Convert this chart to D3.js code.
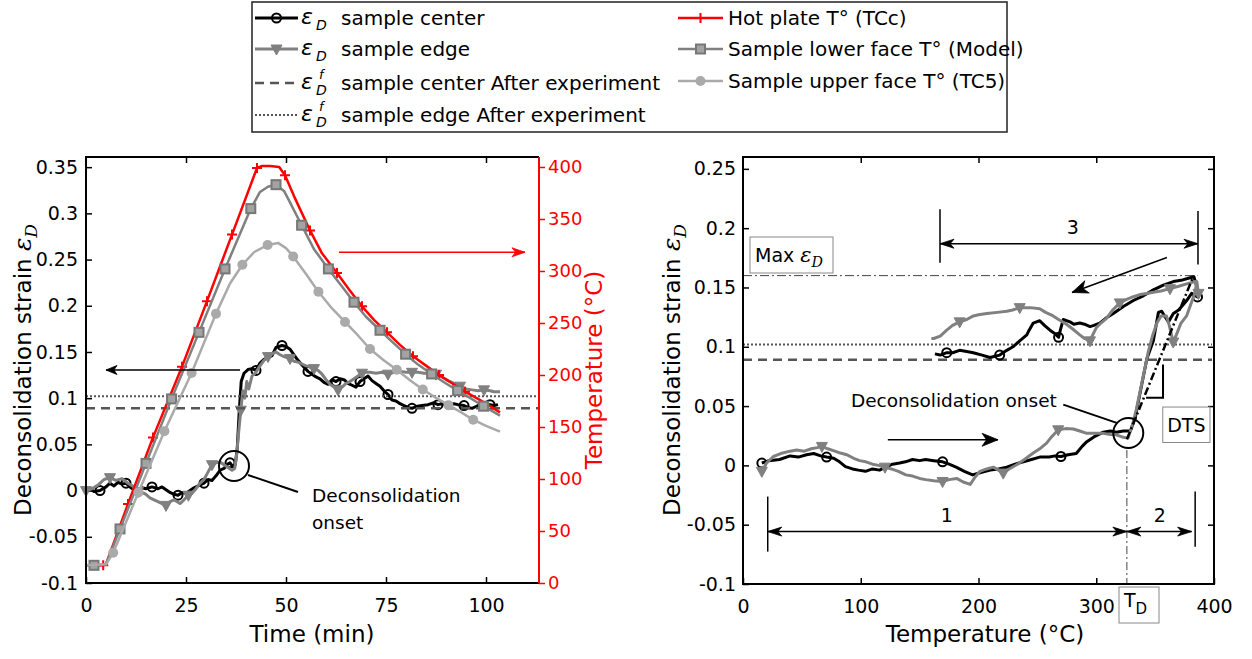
<!DOCTYPE html>
<html>
<head>
<meta charset="utf-8">
<script src="https://cdn.jsdelivr.net/npm/d3@7"></script>
<style>
body { margin: 0; background: #fff; }
svg { display: block; }
text { font-family: "DejaVu Sans", sans-serif; }
</style>
</head>
<body>
<div id="chart"></div>
<script>
// ---- tick values / labels ----
var leftTimeTicks = [0, 25, 50, 75, 100];
var leftStrainTicks = [-0.1, -0.05, 0, 0.05, 0.1, 0.15, 0.2, 0.25, 0.3, 0.35];
var leftStrainLabels = ["-0.1", "-0.05", "0", "0.05", "0.1", "0.15", "0.2", "0.25", "0.3", "0.35"];
var tempTicks = [0, 50, 100, 150, 200, 250, 300, 350, 400];
var rightTempTicks = [0, 100, 200, 300, 400];
var rightStrainTicks = [-0.1, -0.05, 0, 0.05, 0.1, 0.15, 0.2, 0.25];
var rightStrainLabels = ["-0.1", "-0.05", "0", "0.05", "0.1", "0.15", "0.2", "0.25"];

// after experiment strains + max strain + onset temperature
var afterCenter = 0.089, afterEdge = 0.102, maxStrain = 0.16, onsetTemp = 326;

// ---- left plot : strain vs time ----
var lcTime = [0,1,2,3.5,5,6,7,8,9,10,11,12,13,14,15,16.5,18,19,20,21,22,23,24,25,26,27,28,29.5,30.5,31.5,32.5,33.5,34.5,35.5,36,36.7,37.3,37.8,38.3,38.8,39.5,40.5,41.5,42.5,43.5,44.5,45.5,46.5,47.5,49,50,51,52,53,54,55.5,56.5,57.5,58.5,59.5,60.5,61.5,62.5,63.5,64.5,65.5,66.5,67.5,68.5,69.5,70.5,71.5,72.5,73.5,74.5,75.5,76.5,77.5,78.5,79.5,80.5,81.5,82.5,84,85.5,87,88,89,90,91,92,93,94.5,95.5,96.5,97.5,98.5,99.5,101,102,103];
var lcStrain = [0.000,0.002,-0.001,0.000,0.004,0.008,0.005,0.009,0.007,0.008,0.004,0.001,-0.001,0.003,0.002,0.004,0.002,0.004,0.001,-0.002,-0.004,-0.005,-0.002,-0.003,0.000,0.003,0.005,0.008,0.012,0.011,0.016,0.022,0.024,0.029,0.030,0.026,0.028,0.045,0.085,0.118,0.127,0.131,0.132,0.130,0.138,0.142,0.144,0.146,0.155,0.157,0.156,0.153,0.147,0.141,0.136,0.129,0.126,0.123,0.121,0.117,0.115,0.120,0.118,0.121,0.120,0.116,0.114,0.112,0.118,0.121,0.124,0.119,0.116,0.113,0.108,0.104,0.098,0.097,0.094,0.092,0.090,0.089,0.091,0.092,0.093,0.095,0.093,0.094,0.092,0.093,0.094,0.093,0.092,0.090,0.089,0.091,0.093,0.092,0.093,0.092,0.093];
var lcMarks = [3,9,15,21,27,34,43,49,55,62,68,75,81,86,92,98];

var leTime = [0,1.5,3,4.5,6,7.5,9,10.5,12,13,14,15,16,17,18,19,20,21,22,23.5,24.5,25.6,26.5,27.5,28.5,29.5,30.5,31.5,32.5,33.5,34.5,35.5,36.5,37.2,37.7,38.2,38.7,39.2,39.7,40.2,40.7,41.5,42.5,43.5,44.5,45.5,46.5,47.5,48.5,49.5,51,52,53,54,55,56,57,58,59,60,61,62,63,64,65,66,67,68,69,70,71,72.5,74,75.5,77,78.5,80,81.5,83,84.5,86,87.5,89,90.5,92,93.5,95,96.5,98,99.5,101,102,103.5];
var leStrain = [0.000,0.002,0.006,0.012,0.014,0.011,0.013,0.008,0.004,-0.001,-0.002,-0.004,-0.008,-0.010,-0.012,-0.014,-0.016,-0.012,-0.010,-0.014,-0.010,-0.005,-0.003,0.002,0.008,0.012,0.020,0.028,0.030,0.031,0.028,0.025,0.022,0.024,0.040,0.065,0.087,0.108,0.100,0.118,0.110,0.124,0.128,0.135,0.141,0.145,0.148,0.150,0.147,0.145,0.143,0.140,0.139,0.137,0.135,0.134,0.132,0.130,0.126,0.120,0.115,0.112,0.109,0.112,0.116,0.118,0.121,0.124,0.127,0.128,0.128,0.127,0.128,0.126,0.128,0.129,0.128,0.128,0.128,0.127,0.127,0.126,0.123,0.119,0.116,0.113,0.110,0.109,0.108,0.109,0.108,0.107,0.107];
var leMarks = [0,4,9,16,21,27,36,45,50,56,62,68,73,77,81,85,89];

// temperatures (°C)
var hotTime = [0,4.3,5,10.5,16.75,24,30.25,36.5,42.75,44,46,48.3,49.75,52,56,59,62.75,66,69,72,75.25,78.5,81.75,85,88.25,91.5,94.75,98,101,103.5];
var hotTemp = [17,17,18,76,140,208,271,335,399,401,401,400,392,372,339,317,298,281,266,253,241,229,218,209,200,192,184,177,170,164];
var hotMarks = [1,3,4,5,6,7,8,12,14,16,18,20,22,24,26];

var lowerTime = [0,2,5,8.5,15,21.4,28.25,34.75,41.2,43.5,45.5,47.5,49.5,51,53.9,57,60.6,64,67,70,73.5,76.5,79.9,83,86.4,89.5,92.9,96,99.4,103.5];
var lowerTemp = [17,17,18,52,115,177,241,302,360,376,381,383,377,366,344,321,302,285,270,256,243,232,220,210,201,193,185,178,170,161];
var lowerMarks = [1,3,4,5,6,7,8,11,14,16,18,20,22,24,26,28];

var upperTime = [0,5,6.8,13.1,19.6,26.4,32.5,36,39.1,42,45.4,48,50,51.8,55,58.1,61.5,64.75,68,71,74.5,77.7,81,84.2,87.5,90.6,93.8,96.8,100,103.5];
var upperTemp = [17,18,29,87,146,202,259,288,306,318,325,327,322,314,297,280,264,251,238,225,214,205,195,186,178,171,164,157,151,145.5];
var upperMarks = [2,3,4,5,6,8,10,13,15,17,19,21,23,25,27];

// ---- right plot : strain vs temperature ----
var rcTemp = [16,22,31,40,47,54,60,66,71,77,82,87,93,98,104,110,116,121,127,133,138,144,150,155,162,169.5,175,181,188,195,202,210,217,224,231,238,245,252,260,265,270,276,283,288,292,298,306,312,317,323,329,333,338,343,348.5,352.8,355.6,358,361.3,365.5,370,376.8,381,386,385,383,379,372,365.5,357,348.5,340,331.5,323,314.5,308,303,298,294.7,290,286,281,277.7,272,270,268,265,260.7,256,252,246.5,243,241,235,229.3,224,218,214,209.8,203,195.6,190,184,178,173,167.5,163];
var rcStrain = [0.002,0.004,0.005,0.008,0.007,0.009,0.010,0.008,0.007,0.006,0.003,-0.001,-0.003,-0.004,-0.005,-0.003,-0.004,-0.0015,0.001,0.002,0.003,0.005,0.004,0.005,0.004,0.003,0.001,-0.0015,-0.005,-0.008,-0.006,-0.004,-0.003,-0.0015,0.001,0.003,0.005,0.007,0.007,0.008,0.0075,0.009,0.010,0.016,0.020,0.024,0.028,0.029,0.028,0.029,0.029,0.040,0.065,0.090,0.105,0.129,0.130,0.126,0.121,0.128,0.131,0.139,0.145,0.142,0.152,0.159,0.158,0.156,0.155,0.152,0.148,0.143,0.139,0.134,0.128,0.124,0.120,0.118,0.117,0.119,0.120,0.119,0.121,0.123,0.116,0.108,0.111,0.114,0.118,0.122,0.120,0.114,0.110,0.105,0.100,0.097,0.093,0.092,0.091,0.093,0.095,0.096,0.097,0.095,0.095,0.093,0.094];
var rcMarks = [0,8,25,40,63,85,96,104];

var reTemp = [16,20,25.8,32,40,45.6,52,58,63,67,72,78,82.8,88,94,99,104.3,110,115,120.6,126,132,138.3,144,150,155.3,162,169.5,175,181.5,187,193,197,201.3,207,212.6,217,221,226,232.4,239,246.5,252,257.8,262,267.7,274,280.5,286,292,299,306,312,317,322,327,331,334,339.9,344,348,351.5,355,359.6,362,365.4,368,372,376.7,380,384,385.4,386.8,384,376.8,370,362.6,355,348.5,343,337,331,325.8,320,314,308.7,304,300,297,294.7,290,286,280,274.7,268,263.4,257,252,244,235,229,224,216,207,200,195.6,190,184,178,173,167.5,162,160];
var reStrain = [-0.005,0.002,0.0075,0.010,0.012,0.013,0.012,0.014,0.015,0.016,0.014,0.012,0.0104,0.009,0.006,0.004,0.003,0.001,0.000,-0.0015,-0.003,-0.005,-0.008,-0.009,-0.011,-0.012,-0.013,-0.0136,-0.012,-0.011,-0.014,-0.016,-0.010,-0.005,-0.003,-0.0015,-0.004,-0.0065,-0.003,0.0005,0.005,0.0104,0.014,0.0188,0.024,0.030,0.031,0.0307,0.029,0.027,0.027,0.027,0.026,0.0258,0.024,0.023,0.035,0.047,0.075,0.095,0.110,0.120,0.126,0.126,0.118,0.104,0.110,0.120,0.126,0.135,0.146,0.155,0.145,0.155,0.153,0.151,0.149,0.147,0.146,0.145,0.144,0.142,0.140,0.137,0.131,0.124,0.120,0.116,0.110,0.105,0.107,0.110,0.115,0.119,0.123,0.126,0.129,0.132,0.133,0.133,0.131,0.130,0.129,0.128,0.127,0.126,0.123,0.121,0.118,0.114,0.109,0.107,0.107];
var reMarks = [0,9,19,27,37,45,65,72,76,83,89,99,107];

// ---- colours ----
var RED = "#ff0000", GREY = "#808080", LIGHT = "#aaaaaa", REF = "#555555";
var W = 1252, H = 659;

var svg = d3.select("#chart").append("svg").attr("width", W).attr("height", H);
svg.append("rect").attr("width", W).attr("height", H).attr("fill", "#fff");

// ---- scales ----
var lx = d3.scaleLinear().domain([0, 113.25]).range([86, 539]);
var ly = d3.scaleLinear().domain([-0.1, 0.361]).range([583, 157]);
var lyT = d3.scaleLinear().domain([0, 409.6]).range([583, 157]);
var rx = d3.scaleLinear().domain([0, 400]).range([743, 1214]);
var ry = d3.scaleLinear().domain([-0.1, 0.26]).range([584, 157]);

function styleAxis(g, color, size) {
	g.select(".domain").remove();
	g.selectAll(".tick line").attr("stroke", color).attr("stroke-width", 1.5);
	g.selectAll(".tick text").attr("fill", color).attr("font-size", size)
	.attr("font-family", "'DejaVu Sans', sans-serif");
}

function drawLine(g, xs, ys, xv, yv, color, width, dash) {
	var pts = xv.map(function(v, i) { return [xs(v), ys(yv[i])]; });
	var p = g.append("path")
	.attr("d", d3.line()(pts))
	.attr("fill", "none")
	.attr("stroke", color)
	.attr("stroke-width", width)
	.attr("stroke-linejoin", "round");
	if (dash) p.attr("stroke-dasharray", dash);
	return p;
}

function drawMarker(g, x, y, kind) {
	if (kind === "ring") {
		g.append("circle").attr("cx", x).attr("cy", y).attr("r", 4.5)
		.attr("fill", "none").attr("stroke", "#000").attr("stroke-width", 2);
	} else if (kind === "tri") {
		g.append("path")
		.attr("d", "M" + (x - 5.5) + "," + (y - 4) + "L" + (x + 5.5) + "," + (y - 4) + "L" + x + "," + (y + 6) + "Z")
		.attr("fill", GREY).attr("stroke", GREY).attr("stroke-width", 1);
	} else if (kind === "square") {
		g.append("rect").attr("x", x - 4.5).attr("y", y - 4.5).attr("width", 9).attr("height", 9)
		.attr("fill", "#a3a3a3").attr("stroke", "#777").attr("stroke-width", 2);
	} else if (kind === "dot") {
		g.append("circle").attr("cx", x).attr("cy", y).attr("r", 5).attr("fill", LIGHT);
	} else if (kind === "plus") {
		g.append("path")
		.attr("d", "M" + (x - 5) + "," + y + "H" + (x + 5) + "M" + x + "," + (y - 5) + "V" + (y + 5))
		.attr("stroke", RED).attr("stroke-width", 2);
	}
}

function drawMarks(g, xs, ys, xv, yv, idx, kind) {
	idx.forEach(function(i) { drawMarker(g, xs(xv[i]), ys(yv[i]), kind); });
}

function arrowHead(g, x1, y1, x2, y2, len, wid, color) {
	var dx = x2 - x1, dy = y2 - y1, L = Math.sqrt(dx * dx + dy * dy);
	var ux = dx / L, uy = dy / L, px = -uy, py = ux;
	var bx = x2 - ux * len, by = y2 - uy * len;
	var nx = x2 - ux * len * 0.72, ny = y2 - uy * len * 0.72;
	g.append("path")
	.attr("d", "M" + x2 + "," + y2 + "L" + (bx + px * wid / 2) + "," + (by + py * wid / 2) +
		"L" + nx + "," + ny + "L" + (bx - px * wid / 2) + "," + (by - py * wid / 2) + "Z")
	.attr("fill", color).attr("stroke", color).attr("stroke-width", 0.8);
}

function arrow(g, x1, y1, x2, y2, len, wid, color, both) {
	g.append("line").attr("x1", x1).attr("y1", y1).attr("x2", x2).attr("y2", y2)
	.attr("stroke", color).attr("stroke-width", 1.5);
	arrowHead(g, x1, y1, x2, y2, len, wid, color);
	if (both) arrowHead(g, x2, y2, x1, y1, len, wid, color);
}

// epsilon_D as real text: italic serif epsilon plus subscript D
function epsD(textSel, size) {
	textSel.append("tspan").attr("font-family", "'DejaVu Serif', serif").attr("font-style", "italic")
	.attr("font-size", size).text("\u03b5");
	textSel.append("tspan").attr("font-family", "'DejaVu Serif', serif").attr("font-style", "italic")
	.attr("font-size", size * 0.68).attr("dy", size * 0.25).text("D");
}

// ================= LEFT PLOT =================
var gl = svg.append("g");

gl.append("g").attr("transform", "translate(0,583)")
.call(d3.axisBottom(lx).tickValues(leftTimeTicks).tickSize(-6).tickSizeOuter(0).tickPadding(16).tickFormat(d3.format("d")))
.call(function(g) { styleAxis(g, "#000", 19); });
gl.append("g").attr("transform", "translate(0,157)")
.call(d3.axisTop(lx).tickValues(leftTimeTicks.slice(1)).tickSize(-6).tickSizeOuter(0).tickFormat(""))
.call(function(g) { styleAxis(g, "#000", 19); });
gl.append("g").attr("transform", "translate(86,0)")
.call(d3.axisLeft(ly).tickValues(leftStrainTicks).tickSize(-6).tickSizeOuter(0).tickPadding(8)
	.tickFormat(function(d, i) { return leftStrainLabels[i]; }))
.call(function(g) { styleAxis(g, "#000", 19); });
gl.append("g").attr("transform", "translate(539,0)")
.call(d3.axisRight(lyT).tickValues(tempTicks).tickSize(6).tickSizeOuter(0).tickPadding(3).tickFormat(d3.format("d")))
.call(function(g) { styleAxis(g, RED, 18); });

// strain curves
drawLine(gl, lx, ly, lcTime, lcStrain, "#000", 3);
drawMarks(gl, lx, ly, lcTime, lcStrain, lcMarks, "ring");
drawLine(gl, lx, ly, leTime, leStrain, GREY, 3);
drawMarks(gl, lx, ly, leTime, leStrain, leMarks, "tri");

// after experiment lines
gl.append("line").attr("x1", 86).attr("x2", 539).attr("y1", ly(afterCenter)).attr("y2", ly(afterCenter))
.attr("stroke", REF).attr("stroke-width", 2.5).attr("stroke-dasharray", "9,6");
gl.append("line").attr("x1", 86).attr("x2", 539).attr("y1", ly(afterEdge)).attr("y2", ly(afterEdge))
.attr("stroke", REF).attr("stroke-width", 2).attr("stroke-dasharray", "2,2");

// temperatures
drawLine(gl, lx, lyT, hotTime, hotTemp, RED, 2.5);
drawMarks(gl, lx, lyT, hotTime, hotTemp, hotMarks, "plus");
drawLine(gl, lx, lyT, lowerTime, lowerTemp, GREY, 2.5);
drawMarks(gl, lx, lyT, lowerTime, lowerTemp, lowerMarks, "square");
drawLine(gl, lx, lyT, upperTime, upperTemp, LIGHT, 2.5);
drawMarks(gl, lx, lyT, upperTime, upperTemp, upperMarks, "dot");

// box
gl.append("path").attr("d", "M539,157H86V583H539").attr("fill", "none").attr("stroke", "#000").attr("stroke-width", 2);
gl.append("line").attr("x1", 539).attr("x2", 539).attr("y1", 157).attr("y2", 583).attr("stroke", RED).attr("stroke-width", 2);

// annotations
arrow(gl, lx(38.5), ly(0.1305), lx(5), ly(0.1305), 11, 9, "#000", false);
arrow(gl, lx(63.25), lyT(318), lx(109.75), lyT(318), 13, 9, RED, false);
gl.append("circle").attr("cx", lx(37)).attr("cy", ly(0.0266)).attr("r", 15)
.attr("fill", "none").attr("stroke", "#000").attr("stroke-width", 2);
gl.append("line").attr("x1", lx(40.5)).attr("y1", ly(0.0169)).attr("x2", lx(53)).attr("y2", ly(-0.0015))
.attr("stroke", "#000").attr("stroke-width", 2);
gl.append("text").attr("x", lx(56.5)).attr("y", ly(-0.0058) + 6).attr("font-size", 18.5).text("Deconsolidation");
gl.append("text").attr("x", lx(56.5)).attr("y", ly(-0.0058) + 33).attr("font-size", 18.5).text("onset");

// axis titles
gl.append("text").attr("x", 312).attr("y", 642).attr("text-anchor", "middle").attr("font-size", 23).text("Time (min)");
var tl = gl.append("text").attr("transform", "translate(31,370) rotate(-90)").attr("text-anchor", "middle").attr("font-size", 23);
tl.append("tspan").text("Deconsolidation strain ");
epsD(tl, 25);
gl.append("text").attr("transform", "translate(602,370) rotate(-90)").attr("text-anchor", "middle")
.attr("font-size", 23).attr("fill", RED).text("Temperature (\u00b0C)");

// ================= RIGHT PLOT =================
var gr = svg.append("g");

gr.append("g").attr("transform", "translate(0,584)")
.call(d3.axisBottom(rx).tickValues(rightTempTicks).tickSize(-6).tickSizeOuter(0).tickPadding(16).tickFormat(d3.format("d")))
.call(function(g) { styleAxis(g, "#000", 19); });
gr.append("g").attr("transform", "translate(0,157)")
.call(d3.axisTop(rx).tickValues([100, 200, 300]).tickSize(-6).tickSizeOuter(0).tickFormat(""))
.call(function(g) { styleAxis(g, "#000", 19); });
gr.append("g").attr("transform", "translate(743,0)")
.call(d3.axisLeft(ry).tickValues(rightStrainTicks).tickSize(-6).tickSizeOuter(0).tickPadding(7)
	.tickFormat(function(d, i) { return rightStrainLabels[i]; }))
.call(function(g) { styleAxis(g, "#000", 19); });
gr.append("g").attr("transform", "translate(1214,0)")
.call(d3.axisRight(ry).tickValues(rightStrainTicks.slice(1)).tickSize(-6).tickSizeOuter(0).tickFormat(""))
.call(function(g) { styleAxis(g, "#000", 19); });

// reference lines
gr.append("line").attr("x1", 743).attr("x2", rx(386)).attr("y1", ry(maxStrain)).attr("y2", ry(maxStrain))
.attr("stroke", "#444").attr("stroke-width", 1).attr("stroke-dasharray", "9,3,2,3");
gr.append("line").attr("x1", 743).attr("x2", 1212).attr("y1", ry(afterCenter)).attr("y2", ry(afterCenter))
.attr("stroke", REF).attr("stroke-width", 2.5).attr("stroke-dasharray", "9,6");
gr.append("line").attr("x1", 743).attr("x2", 1212).attr("y1", ry(afterEdge)).attr("y2", ry(afterEdge))
.attr("stroke", REF).attr("stroke-width", 2).attr("stroke-dasharray", "2,2");

// curves
drawLine(gr, rx, ry, rcTemp, rcStrain, "#000", 3);
drawMarks(gr, rx, ry, rcTemp, rcStrain, rcMarks, "ring");
drawLine(gr, rx, ry, reTemp, reStrain, GREY, 3);
drawMarks(gr, rx, ry, reTemp, reStrain, reMarks, "tri");

// DTS tangent + triangle
gr.append("line").attr("x1", rx(326)).attr("y1", ry(0.022)).attr("x2", rx(382.5)).attr("y2", ry(0.1595))
.attr("stroke", "#000").attr("stroke-width", 2.5).attr("stroke-dasharray", "8,3,2,3");
gr.append("path").attr("d", "M" + rx(342.3) + "," + ry(0.0571) + "H" + rx(356.7) + "V" + ry(0.085))
.attr("fill", "none").attr("stroke", "#000").attr("stroke-width", 2);

// T_D vertical
gr.append("line").attr("x1", rx(onsetTemp)).attr("x2", rx(onsetTemp)).attr("y1", ry(0.013)).attr("y2", 584)
.attr("stroke", "#444").attr("stroke-width", 1).attr("stroke-dasharray", "8,3,2,3");

// box
gr.append("rect").attr("x", 743).attr("y", 157).attr("width", 471).attr("height", 427)
.attr("fill", "none").attr("stroke", "#000").attr("stroke-width", 2);

// onset circle + label
gr.append("circle").attr("cx", rx(327.2)).attr("cy", ry(0.0273)).attr("r", 15)
.attr("fill", "none").attr("stroke", "#000").attr("stroke-width", 2);
gr.append("line").attr("x1", rx(272)).attr("y1", ry(0.0512)).attr("x2", rx(317.4)).attr("y2", ry(0.0358))
.attr("stroke", "#000").attr("stroke-width", 2);
gr.append("text").attr("x", rx(91.7)).attr("y", ry(0.0554) + 7).attr("font-size", 18.5).text("Deconsolidation onset");

// heating / cooling arrows
arrow(gr, rx(123), ry(0.0216), rx(216.6), ry(0.0216), 16, 13, "#000", false);
arrow(gr, rx(360), ry(0.1753), rx(279.4), ry(0.1458), 16, 13, "#000", false);

// zone arrows 1, 2, 3
arrow(gr, rx(21), ry(-0.0558), rx(onsetTemp), ry(-0.0558), 14, 9, "#000", true);
arrow(gr, rx(onsetTemp), ry(-0.0558), rx(381), ry(-0.0558), 14, 9, "#000", true);
arrow(gr, rx(167.3), ry(0.1869), rx(386.4), ry(0.1869), 14, 9, "#000", true);
[[21, -0.0263, -0.0727], [384, -0.022, -0.0685], [167.3, 0.2159, 0.1709], [386.4, 0.2145, 0.1694]].forEach(function(b) {
	gr.append("line").attr("x1", rx(b[0])).attr("x2", rx(b[0])).attr("y1", ry(b[1])).attr("y2", ry(b[2]))
	.attr("stroke", "#000").attr("stroke-width", 1.5);
});
gr.append("text").attr("x", rx(173)).attr("y", ry(-0.0417) + 7).attr("text-anchor", "middle").attr("font-size", 19).text("1");
gr.append("text").attr("x", rx(354)).attr("y", ry(-0.0417) + 7).attr("text-anchor", "middle").attr("font-size", 19).text("2");
gr.append("text").attr("x", rx(280)).attr("y", ry(0.2007) + 7).attr("text-anchor", "middle").attr("font-size", 19).text("3");

// Max eps box
gr.append("rect").attr("x", 750).attr("y", 237).attr("width", 83).attr("height", 36)
.attr("fill", "#fff").attr("stroke", "#888").attr("stroke-width", 1);
var mt = gr.append("text").attr("x", 755).attr("y", 262).attr("font-size", 19);
mt.append("tspan").text("Max ");
epsD(mt, 21);

// DTS box
gr.append("rect").attr("x", rx(356.5)).attr("y", ry(0.0492)).attr("width", rx(396.6) - rx(356.5)).attr("height", ry(0.0193) - ry(0.0492))
.attr("fill", "#fff").attr("stroke", "#888").attr("stroke-width", 1);
gr.append("text").attr("x", (rx(356.5) + rx(396.6)) / 2).attr("y", ry(0.0343) + 7).attr("text-anchor", "middle").attr("font-size", 19).text("DTS");

// T_D box
gr.append("rect").attr("x", 1119).attr("y", 587).attr("width", 40).attr("height", 36)
.attr("fill", "#fff").attr("stroke", "#888").attr("stroke-width", 1);
var tdt = gr.append("text").attr("x", 1124).attr("y", 607).attr("font-size", 19);
tdt.append("tspan").text("T");
tdt.append("tspan").attr("font-size", 15).attr("dy", 7).text("D");

// axis titles
gr.append("text").attr("x", 985).attr("y", 642).attr("text-anchor", "middle").attr("font-size", 23).text("Temperature (\u00b0C)");
var tr = gr.append("text").attr("transform", "translate(680,370) rotate(-90)").attr("text-anchor", "middle").attr("font-size", 23);
tr.append("tspan").text("Deconsolidation strain ");
epsD(tr, 25);

// ================= LEGEND =================
var lg = svg.append("g");
lg.append("rect").attr("x", 252).attr("y", 2).attr("width", 755).attr("height", 130)
.attr("fill", "#fff").attr("stroke", "#222").attr("stroke-width", 1.5);

var rowsY = [18, 49, 83, 115];
var rowsYRight = [18, 49, 81];
function legLine(x1, x2, y, color, width, dash) {
	var l = lg.append("line").attr("x1", x1).attr("x2", x2).attr("y1", y).attr("y2", y)
	.attr("stroke", color).attr("stroke-width", width);
	if (dash) l.attr("stroke-dasharray", dash);
}
function legEps(y, sup) {
	lg.append("text").attr("x", 301).attr("y", y + 6).attr("font-family", "'DejaVu Serif', serif")
	.attr("font-style", "italic").attr("font-size", 22).text("\u03b5");
	lg.append("text").attr("x", 316).attr("y", y + 12).attr("font-family", "'DejaVu Serif', serif")
	.attr("font-style", "italic").attr("font-size", 14).text("D");
	if (sup) lg.append("text").attr("x", 319).attr("y", y - 4).attr("font-family", "'DejaVu Serif', serif")
	.attr("font-style", "italic").attr("font-size", 13).text("f");
}
function legText(x, y, s) {
	lg.append("text").attr("x", x).attr("y", y + 7).attr("font-size", 20).text(s);
}

legLine(255, 298, rowsY[0], "#000", 3);
drawMarker(lg, 276.5, rowsY[0], "ring");
legEps(rowsY[0], false);
legText(341, rowsY[0], "sample center");

legLine(255, 298, rowsY[1], GREY, 3);
drawMarker(lg, 276.5, rowsY[1], "tri");
legEps(rowsY[1], false);
legText(341, rowsY[1], "sample edge");

legLine(255, 298, rowsY[2], REF, 2.5, "9,6");
legEps(rowsY[2], true);
legText(341, rowsY[2], "sample center After experiment");

legLine(255, 298, rowsY[3], REF, 2, "2,2");
legEps(rowsY[3], true);
legText(341, rowsY[3], "sample edge After experiment");

legLine(678, 723, rowsYRight[0], RED, 2.5);
drawMarker(lg, 700.5, rowsYRight[0], "plus");
legText(728, rowsYRight[0], "Hot plate T\u00b0 (TCc)");

legLine(678, 723, rowsYRight[1], GREY, 2.5);
drawMarker(lg, 700.5, rowsYRight[1], "square");
legText(728, rowsYRight[1], "Sample lower face T\u00b0 (Model)");

legLine(678, 723, rowsYRight[2], LIGHT, 2.5);
drawMarker(lg, 700.5, rowsYRight[2], "dot");
legText(728, rowsYRight[2], "Sample upper face T\u00b0 (TC5)");
</script>
</body>
</html>
